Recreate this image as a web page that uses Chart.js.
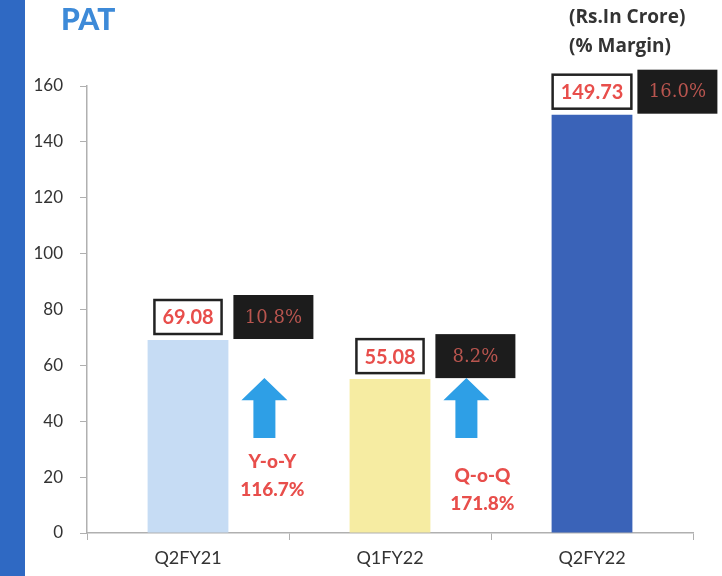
<!DOCTYPE html>
<html>
<head>
<meta charset="utf-8">
<script src="https://cdn.jsdelivr.net/npm/chart.js@4.4.0/dist/chart.umd.min.js"></script>
<style>
  html, body { margin: 0; padding: 0; background: #fff; }
  #wrap { position: relative; width: 722px; height: 576px; overflow: hidden; }
  #stripe { position: absolute; left: 0; top: 0; width: 25px; height: 576px; background: #2f69c3; }
  #title { position: absolute; left: 61px; top: 0px; font: 900 30px Lato, sans-serif; color: #3d8ad8; }
  #units { position: absolute; left: 569px; top: 2px; font: bold 19px "Open Sans", sans-serif; color: #333; line-height: 29px; }
  canvas { position: absolute; left: 0; top: 0; }
</style>
</head>
<body>
<div id="wrap">
  <canvas id="patChart" width="722" height="576"></canvas>
  <div id="stripe"></div>
  <div id="title">PAT</div>
  <div id="units">(Rs.In Crore)<br>(% Margin)</div>
</div>
<script>
const categories = ['Q2FY21', 'Q1FY22', 'Q2FY22'];
const patValues = [69.08, 55.08, 149.73];
const margins = ['10.8%', '8.2%', '16.0%'];
const growthTypes = ['Y-o-Y', 'Q-o-Q', null];
const growthValues = ['116.7%', '171.8%', null];
const barColors = ['#c6dcf4', '#f6eca2', '#3a63b8'];

// labels, margin boxes and growth arrows, placed from the bar elements
const annotate = {
    id: 'annotate',
    afterDatasetsDraw(chart) {
        const ctx = chart.ctx;
        const y = chart.scales.y;
        const bars = chart.getDatasetMeta(0).data;
        bars.forEach((bar, i) => {
            const half = bar.width / 2;
            const txt = patValues[i].toFixed(2);
            ctx.save();
            // value box
            ctx.font = 'bold 20px Lato, sans-serif';
            const tw = ctx.measureText(txt).width;
            const bw = tw + 16, bh = 34;
            const bx = bar.x - bw / 2, by = bar.y - 6 - bh;
            ctx.fillStyle = '#fff';
            ctx.fillRect(bx, by, bw, bh);
            ctx.strokeStyle = '#222';
            ctx.lineWidth = 2.5;
            ctx.strokeRect(bx, by, bw, bh);
            ctx.fillStyle = '#e84e4b';
            ctx.textAlign = 'center';
            ctx.textBaseline = 'middle';
            ctx.fillText(txt, bar.x, by + bh / 2 + 1);

            // margin box
            const mx = bar.x + half + 5, mw = 80, mh = 44;
            const my = by + bh / 2 - mh / 2;
            ctx.fillStyle = '#1c1c1c';
            ctx.fillRect(mx, my, mw, mh);
            ctx.font = '18px "DejaVu Serif", serif';
            ctx.fillStyle = '#b9554f';
            ctx.fillText(margins[i], mx + mw / 2, my + mh / 2 + 1);

            // growth arrow
            if (growthTypes[i]) {
                const ax = bar.x + half + 36;
                const top = y.getPixelForValue(55.5);
                const base = y.getPixelForValue(47.5);
                const bottom = y.getPixelForValue(34);
                ctx.fillStyle = '#2e9fe6';
                ctx.beginPath();
                ctx.moveTo(ax, top);
                ctx.lineTo(ax + 23, base);
                ctx.lineTo(ax + 11, base);
                ctx.lineTo(ax + 11, bottom);
                ctx.lineTo(ax - 11, bottom);
                ctx.lineTo(ax - 11, base);
                ctx.lineTo(ax - 23, base);
                ctx.closePath();
                ctx.fill();
                ctx.font = '900 19px Lato, sans-serif';
                ctx.fillStyle = '#e84e4b';
                const tx = ax + 8 + i * 8;
                const t1 = y.getPixelForValue(i === 0 ? 25.5 : 20.5);
                ctx.fillText(growthTypes[i], tx, t1);
                ctx.fillText(growthValues[i], tx, t1 + 28);
            }
            ctx.restore();
        });
    }
};

new Chart(document.getElementById('patChart'), {
    type: 'bar',
    data: {
        labels: categories,
        datasets: [{
            data: patValues,
            backgroundColor: barColors,
            categoryPercentage: 0.8,
            barPercentage: 0.5
        }]
    },
    options: {
        responsive: false,
        animation: false,
        layout: { padding: { top: 86, right: 29, left: 0, bottom: 0 } },
        plugins: { legend: { display: false }, tooltip: { enabled: false } },
        scales: {
            x: {
                afterFit: s => { s.height = 43; },
                border: { color: '#b0b0b0', width: 1.5 },
                grid: { drawOnChartArea: false, tickLength: 7, color: '#b0b0b0' },
                ticks: { color: '#333', font: { family: 'Lato', size: 18 }, padding: 7 }
            },
            y: {
                min: 0, max: 160,
                afterFit: s => { s.width = 87; },
                border: { color: '#b0b0b0', width: 1.5 },
                grid: { drawOnChartArea: false, tickLength: 7, color: '#b0b0b0' },
                ticks: { stepSize: 20, color: '#333', font: { family: 'Lato', size: 17 }, padding: 17 }
            }
        }
    },
    plugins: [annotate]
});
</script>
</body>
</html>
